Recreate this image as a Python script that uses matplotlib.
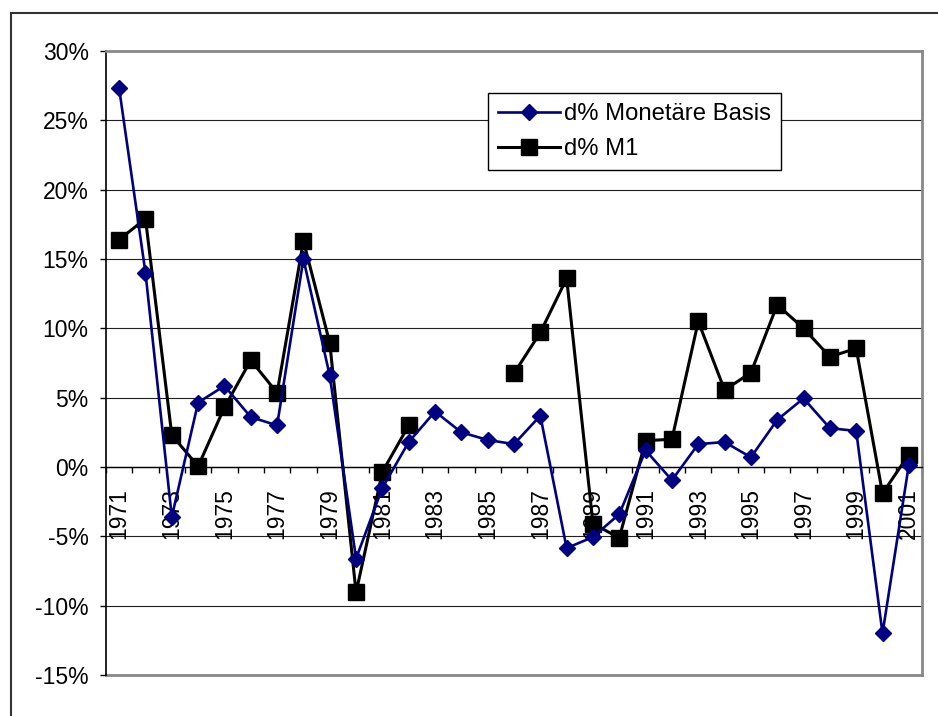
import numpy as np
import matplotlib
matplotlib.use("Agg")
import matplotlib.pyplot as plt
from matplotlib.lines import Line2D
from matplotlib.ticker import FixedLocator, FuncFormatter, NullFormatter

plt.rcParams['font.family'] = ['Liberation Sans', 'DejaVu Sans']
plt.rcParams['axes.unicode_minus'] = False

years = list(range(1971, 2002))

# growth rates in percent
monetaere_basis = [27.3, 14.0, -3.6, 4.65, 5.85, 3.6, 3.0, 15.0, 6.6, -6.6,
                   -1.5, 1.8, 4.0, 2.5, 1.95, 1.65, 3.7, -5.85, -5.05, -3.4,
                   1.2, -0.95, 1.65, 1.8, 0.7, 3.4, 4.95, 2.8, 2.6, -12.0,
                   0.15]
m1 = [16.4, 17.9, 2.3, 0.05, 4.3, 7.7, 5.35, 16.3, 8.95, -9.05,
      -0.35, 3.0, np.nan, np.nan, np.nan, 6.75, 9.7, 13.6, -4.1, -5.1,
      1.9, 2.0, 10.5, 5.55, 6.8, 11.7, 10.0, 7.95, 8.55, -1.9,
      0.9]

series_labels = ['d% Monetäre Basis', 'd% M1']
y_ticks = list(range(-15, 31, 5))
label_years = years[::2]

FS = 16.5

fig = plt.figure(figsize=(9.38, 7.16), dpi=100)
ax = fig.add_axes([106 / 938, 1 - 675 / 716, (922 - 106) / 938, (675 - 51) / 716])

ax.plot(years, m1, color='black', lw=2.2, marker='s', ms=11.5,
        mfc='black', mec='black', label=series_labels[1], zorder=4,
        clip_on=False)
ax.plot(years, monetaere_basis, color='#000080', lw=1.9, marker='D', ms=7.8,
        mfc='#000080', mec='#000080', label=series_labels[0], zorder=5,
        clip_on=False)

ax.set_xlim(years[0] - 0.5, years[-1] + 0.5)
ax.set_ylim(-15, 30)

# horizontal gridlines (inner ones; the outer edges are the plot border)
ax.set_yticks(y_ticks)
ax.yaxis.set_major_formatter(FuncFormatter(lambda v, p: f"{v:.0f}%"))
for v in y_ticks[1:-1]:
    ax.axhline(v, color='#202020', lw=0.8, zorder=0.5)
ax.tick_params(axis='y', direction='out', length=4.5, width=1, pad=8,
               labelsize=FS, color='black')

# category axis crossing at zero
ax.spines['bottom'].set_position(('data', 0))
ax.spines['bottom'].set_color('black')
ax.spines['bottom'].set_linewidth(1.0)
ax.spines['left'].set_color('black')
ax.spines['left'].set_linewidth(1.2)
for side in ('top', 'right'):
    ax.spines[side].set_color('#888888')
    ax.spines[side].set_linewidth(2)
ax.axhline(-15, color='#888888', lw=2, zorder=1, clip_on=False)

boundaries = [y - 0.5 for y in years] + [years[-1] + 0.5]
ax.xaxis.set_major_locator(FixedLocator(boundaries))
ax.xaxis.set_major_formatter(NullFormatter())
ax.xaxis.set_minor_locator(FixedLocator(label_years))
ax.xaxis.set_minor_formatter(FuncFormatter(lambda v, p: f"{int(round(v))}"))
ax.tick_params(axis='x', which='major', direction='out', length=4.5, width=1,
               color='black')
ax.tick_params(axis='x', which='minor', length=0, pad=15, labelsize=FS,
               labelrotation=90)

handles, labels = ax.get_legend_handles_labels()
leg = ax.legend(handles[::-1], labels[::-1], loc='upper left',
                bbox_to_anchor=((488 - 106) / 816, (675 - 93) / 624),
                fontsize=17.2, frameon=True, fancybox=False, framealpha=1,
                edgecolor='black', borderpad=0.42, handlelength=2.6,
                handletextpad=0.15, labelspacing=0.55, borderaxespad=0,
                numpoints=1)
leg.get_frame().set_linewidth(1)
leg.set_zorder(10)

# outer chart border
fig.add_artist(Line2D([11 / 938, 1], [1 - 13 / 716, 1 - 13 / 716],
                      transform=fig.transFigure, color='#333333', lw=1.5))
fig.add_artist(Line2D([11 / 938, 11 / 938], [0, 1 - 13 / 716],
                      transform=fig.transFigure, color='#333333', lw=1.5))

fig.savefig('out.png', dpi=100)
